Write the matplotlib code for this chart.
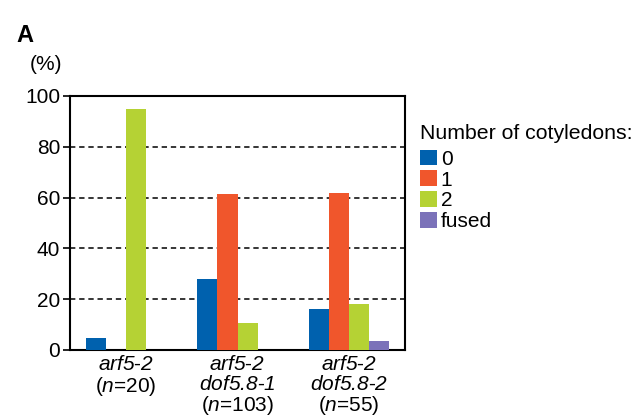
import numpy as np
import matplotlib.pyplot as plt
from matplotlib.patches import Patch

plt.rcParams['font.family'] = ['Liberation Sans', 'DejaVu Sans']
plt.rcParams['mathtext.fontset'] = 'custom'
plt.rcParams['mathtext.it'] = 'Liberation Sans:italic'
plt.rcParams['mathtext.rm'] = 'Liberation Sans:italic'

groups = ['$arf5$-$2$\n($n$=20)',
          '$arf5$-$2$\n$dof5.8$-$1$\n($n$=103)',
          '$arf5$-$2$\n$dof5.8$-$2$\n($n$=55)']
categories = ['0', '1', '2', 'fused']
vals_0 = [4.8, 28.0, 16.2]
vals_1 = [0, 61.2, 61.8]
vals_2 = [95.0, 10.5, 18.0]
vals_fused = [0, 0, 3.6]
colors = ['#0061ae', '#f0562c', '#b5d234', '#7b72b9']

fs = 15
fig = plt.figure(figsize=(6.43, 4.19), dpi=100)
ax = fig.add_axes([0.109, 0.165, 0.521, 0.606])

x = np.arange(len(groups))
w = 0.18
series = [vals_0, vals_1, vals_2, vals_fused]
for i, (s, c) in enumerate(zip(series, colors)):
    ax.bar(x + (i - 1.5) * w, s, width=w, color=c, zorder=3)

ax.set_xlim(-0.5, 2.5)
ax.set_ylim(0, 100)
ax.set_yticks([0, 20, 40, 60, 80, 100])
for yv in [20, 40, 60, 80]:
    ax.axhline(yv, color='black', linestyle=(0, (3.5, 2.5)), linewidth=1.1, zorder=1)
ax.set_xticks(x)
ax.set_xticklabels(groups, fontsize=fs, linespacing=1.02)
ax.tick_params(axis='x', length=0, pad=4)
ax.tick_params(axis='y', labelsize=fs, length=5, width=1.2, direction='out', pad=2)
for sp in ax.spines.values():
    sp.set_linewidth(1.5)

fig.text(0.025, 0.90, 'A', fontsize=17, fontweight='bold')
fig.text(0.047, 0.833, '(%)', fontsize=fs)

handles = [Patch(facecolor=c, edgecolor='none') for c in colors]
leg = fig.legend(handles, categories, title='Number of cotyledons:', loc='upper left',
                 bbox_to_anchor=(0.65, 0.71), frameon=False, fontsize=fs, title_fontsize=15.3,
                 handlelength=0.8, handleheight=0.8, handletextpad=0.2, labelspacing=0.08,
                 alignment='left', borderpad=0.1, borderaxespad=0)
leg._legend_box.sep = 5

fig.savefig('out.png', dpi=100)
